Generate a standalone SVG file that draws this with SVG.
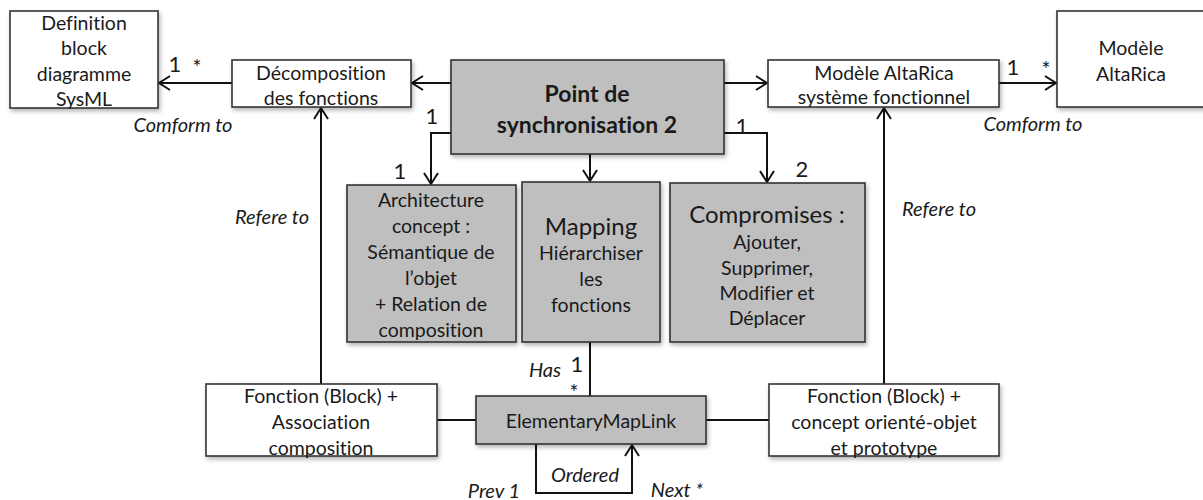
<svg xmlns="http://www.w3.org/2000/svg" width="1203" height="500" viewBox="0 0 1203 500">
<style>
  .box{fill:#ffffff;stroke:#333333;stroke-width:1.6;filter:url(#sh)}
  .gbox{fill:#bfbfbf;stroke:#333333;stroke-width:1.6;filter:url(#sh)}
  text{font-family:Lato,"Open Sans","Liberation Sans",sans-serif;font-size:19.5px;fill:#1a1a1a;text-anchor:middle;dominant-baseline:central;font-variant-ligatures:none;font-feature-settings:"liga" 0}
  .it{font-style:italic;font-size:20px}
  .big{font-size:24px}
  .b{font-weight:bold;font-size:23px}
  .m{font-size:22px}
  .s{font-size:21px}
  .c{fill:none;stroke:#111111;stroke-width:2}
</style>
<defs>
  <filter id="sh" x="-10%" y="-10%" width="130%" height="140%">
    <feDropShadow dx="1.5" dy="2.5" stdDeviation="2" flood-color="#000000" flood-opacity="0.3"/>
  </filter>
  <marker id="a" markerUnits="userSpaceOnUse" markerWidth="16" markerHeight="18" refX="12" refY="8" orient="auto">
    <path d="M1,1 L12,8 L1,15" fill="none" stroke="#111111" stroke-width="2"/>
  </marker>
</defs>

<g id="connectors">
  <path class="c" d="M232,83 H159" marker-end="url(#a)"/>
  <path class="c" d="M451,83 H412" marker-end="url(#a)"/>
  <path class="c" d="M451,133 H431 V184" marker-end="url(#a)"/>
  <path class="c" d="M590,154 V181" marker-end="url(#a)"/>
  <path class="c" d="M724,133 H767 V182" marker-end="url(#a)"/>
  <path class="c" d="M724,83 H767" marker-end="url(#a)"/>
  <path class="c" d="M999,83 H1056" marker-end="url(#a)"/>
  <path class="c" d="M321,384 V108" marker-end="url(#a)"/>
  <path class="c" d="M884,384 V108" marker-end="url(#a)"/>
  <path class="c" d="M590,342 V396"/>
  <path class="c" d="M437,420 H476"/>
  <path class="c" d="M706,420 H769"/>
  <path class="c" d="M536,444 V493 H632 V445" marker-end="url(#a)"/>
  <text x="175" y="63" class="m">1</text>
  <text x="197" y="66" class="s">*</text>
  <text x="183" y="124" class="it">Comform to</text>
  <text x="432" y="115" class="m">1</text>
  <text x="400" y="170" class="m">1</text>
  <text x="742" y="125" class="m">1</text>
  <text x="802" y="168" class="m">2</text>
  <text x="1013" y="66" class="m">1</text>
  <text x="1046" y="68" class="s">*</text>
  <text x="1033" y="123" class="it">Comform to</text>
  <text x="272" y="216" class="it">Refere to</text>
  <text x="939" y="208" class="it">Refere to</text>
  <text x="545" y="369" class="it">Has</text>
  <text x="577" y="363" class="m">1</text>
  <text x="574" y="391" class="s">*</text>
  <text x="585" y="474" class="it">Ordered</text>
  <text x="494" y="490" class="it">Prev 1</text>
  <text x="677" y="489" class="it">Next *</text>
</g>

<g id="definition">
  <rect class="box" x="10" y="11" width="148" height="97"/>
  <text x="84" y="22">Definition</text>
  <text x="84" y="47">block</text>
  <text x="84" y="73">diagramme</text>
  <text x="84" y="98">SysML</text>
</g>

<g id="decomposition">
  <rect class="box" x="232" y="60" width="179" height="47"/>
  <text x="321" y="72">Décomposition</text>
  <text x="321" y="97">des fonctions</text>
</g>

<g id="point-sync">
  <rect class="gbox" x="451" y="60" width="273" height="94"/>
  <text x="587" y="93" class="b">Point de</text>
  <text x="587" y="124" class="b">synchronisation 2</text>
</g>

<g id="modele-systeme">
  <rect class="box" x="768" y="60" width="231" height="47"/>
  <text x="884" y="72">Modèle AltaRica</text>
  <text x="884" y="96">système fonctionnel</text>
</g>

<g id="modele-altarica">
  <rect class="box" x="1057" y="11" width="150" height="96"/>
  <text x="1131" y="47">Modèle</text>
  <text x="1131" y="73">AltaRica</text>
</g>

<g id="architecture">
  <rect class="gbox" x="347" y="185" width="169" height="157"/>
  <text x="431" y="199">Architecture</text>
  <text x="431" y="225">concept :</text>
  <text x="431" y="251">Sémantique de</text>
  <text x="431" y="277">l’objet</text>
  <text x="431" y="303">+ Relation de</text>
  <text x="431" y="329">composition</text>
</g>

<g id="mapping">
  <rect class="gbox" x="522" y="182" width="138" height="160"/>
  <text x="591" y="225" class="big">Mapping</text>
  <text x="591" y="252">Hiérarchiser</text>
  <text x="591" y="278">les</text>
  <text x="591" y="304">fonctions</text>
</g>

<g id="compromises">
  <rect class="gbox" x="670" y="183" width="195" height="159"/>
  <text x="767" y="213" class="big">Compromises :</text>
  <text x="767" y="241">Ajouter,</text>
  <text x="767" y="267">Supprimer,</text>
  <text x="767" y="292">Modifier et</text>
  <text x="767" y="317">Déplacer</text>
</g>

<g id="fonction-association">
  <rect class="box" x="206" y="384" width="231" height="72"/>
  <text x="321" y="395">Fonction (Block) +</text>
  <text x="321" y="421">Association</text>
  <text x="321" y="447">composition</text>
</g>

<g id="elementary-map-link">
  <rect class="gbox" x="476" y="396" width="230" height="48"/>
  <text x="591" y="420">ElementaryMapLink</text>
</g>

<g id="fonction-objet">
  <rect class="box" x="769" y="384" width="230" height="72"/>
  <text x="884" y="395">Fonction (Block) +</text>
  <text x="884" y="421">concept orienté-objet</text>
  <text x="884" y="447">et prototype</text>
</g>
</svg>
